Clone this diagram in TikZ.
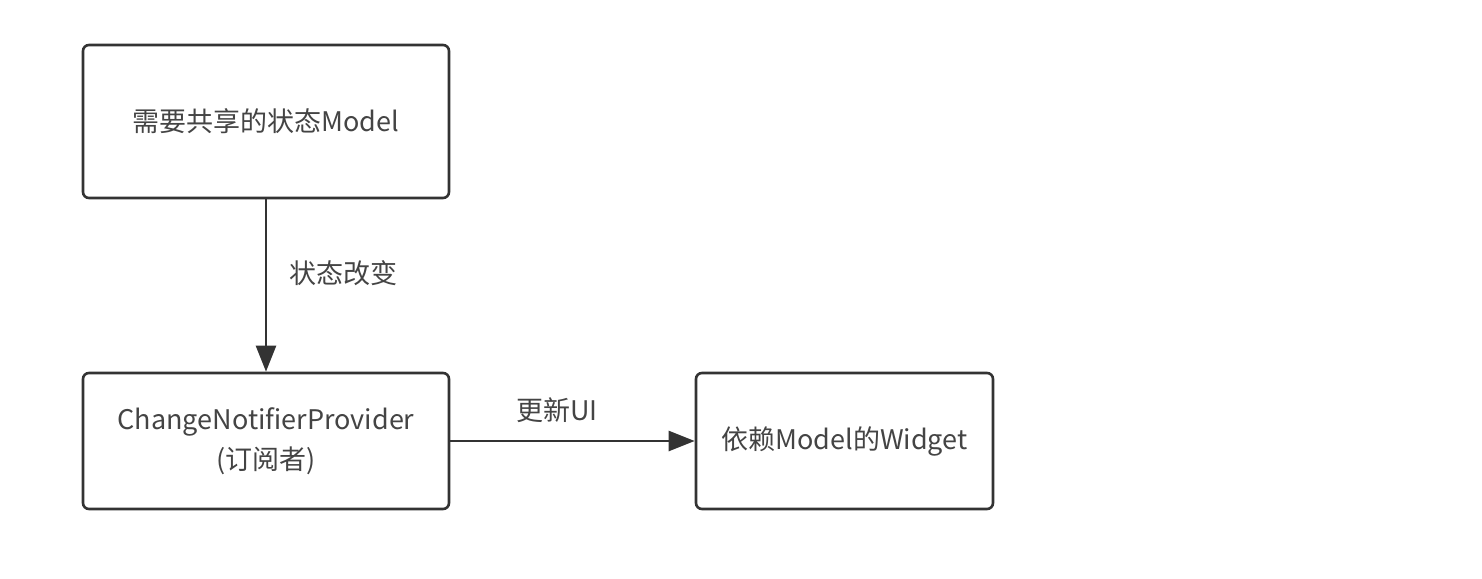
\documentclass[tikz,border=0pt]{standalone}
\usepackage{fontspec}
\setmainfont{Noto Sans CJK SC}
\usetikzlibrary{arrows.meta}
\definecolor{ink}{HTML}{333333}
\definecolor{txt}{HTML}{444444}
\tikzset{
  box/.style={draw=ink, line width=2.6pt, rounded corners=6pt, text=txt, align=center, inner sep=0pt, font=\fontsize{27}{40}\selectfont},
  conn/.style={draw=ink, line width=2.6pt, -{Triangle[length=26pt,width=20pt]}},
  lbl/.style={text=txt, font=\fontsize{27}{32}\selectfont, inner sep=0pt}
}
\begin{document}
\begin{tikzpicture}[x=1pt,y=-1pt]
\useasboundingbox (0,0) rectangle (1482,578);
\node[box, minimum width=366pt, minimum height=153pt] (model) at (266,121.5) {需要共享的状态Model};
\node[box, minimum width=366pt, minimum height=136pt] (prov) at (266,441) {ChangeNotifierProvider\\(订阅者)};
\node[box, minimum width=297pt, minimum height=136pt] (widget) at (844.5,441) {依赖Model的Widget};
\draw[conn] (model.south) -- (prov.north);
\draw[conn] (prov.east) -- (widget.west);
\node[lbl] (l1) at (343,273) {状态改变};
\node[lbl] (l2) at (557,410) {更新UI};
\end{tikzpicture}
\end{document}
